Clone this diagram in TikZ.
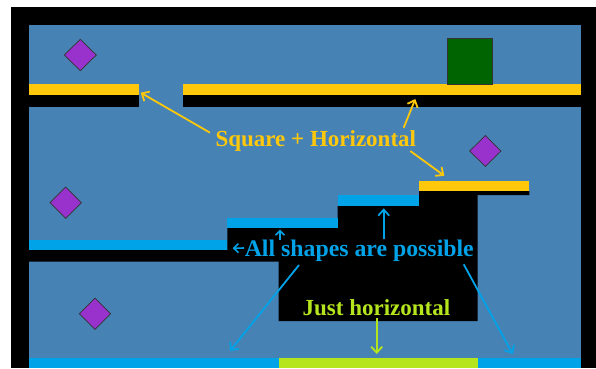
\documentclass[tikz,border=0pt]{standalone}
\usepackage{fontspec}
\setmainfont{Liberation Serif}
\usetikzlibrary{arrows.meta}
\definecolor{steel}{HTML}{4682B4}
\definecolor{gold}{HTML}{FFC80A}
\definecolor{sky}{HTML}{00A2E8}
\definecolor{lime}{HTML}{B5E61D}
\definecolor{orchid}{HTML}{9932CC}
\definecolor{dgreen}{HTML}{006400}
\tikzset{
  gem/.style={fill=orchid,draw=black!80,line width=0.7pt},
  lbl/.style={font=\fontsize{23}{26}\selectfont\bfseries,inner sep=0pt,anchor=base},
  arr/.style={line width=1.8pt,-{Straight Barb[length=6pt,width=11pt]}},
  sarr/.style={line width=1.6pt,-{Straight Barb[length=4.5pt,width=9pt]}},
}
\begin{document}
\begin{tikzpicture}[x=1pt,y=-1pt]
\useasboundingbox (0,0) rectangle (596,368);
\fill[white] (0,0) rectangle (596,368);
% frame
\fill[black] (11,7) rectangle (596,368);
\fill[steel] (28.7,25) rectangle (581,368);
% top floor
\fill[gold] (28.7,84.3) rectangle (139,95);
\fill[black] (28.7,95) rectangle (139,106.7);
\fill[gold] (183.3,84.3) rectangle (581,95);
\fill[black] (183.3,95) rectangle (581,106.7);
% green square
\node[draw=black!80,fill=dgreen,line width=0.7pt,minimum width=45.7pt,minimum height=46pt,inner sep=0pt] (sq) at (469.8,61.3) {};
% diamonds
\draw[gem] (80.3,39.3) -- (96.3,55) -- (80.3,70.7) -- (64.3,55) -- cycle;
\draw[gem] (485.3,135.5) -- (501,151) -- (485.3,166.5) -- (469.7,151) -- cycle;
\draw[gem] (65.7,187) -- (81.4,202.7) -- (65.7,218.4) -- (50,202.7) -- cycle;
\draw[gem] (95,298) -- (110.7,313.7) -- (95,329.4) -- (79.3,313.7) -- cycle;
% black stepped block
\fill[black] (227.3,227.7) -- (337.7,227.7) -- (337.7,205.7) -- (419,205.7) -- (419,191)
  -- (529.3,191) -- (529.3,195) -- (477.7,195) -- (477.7,321) -- (278.7,321)
  -- (278.7,261.7) -- (28.7,261.7) -- (28.7,250) -- (227.3,250) -- cycle;
% steps
\fill[gold] (419,181) rectangle (529.3,191);
\fill[sky] (337.7,195) rectangle (419,205.7);
\fill[sky] (227.3,217.7) rectangle (337.7,227.7);
\fill[sky] (28.7,240) rectangle (227.3,250);
% bottom floor
\fill[sky] (28.7,358.3) rectangle (278.7,368);
\fill[lime] (278.7,358.3) rectangle (477.7,368);
\fill[sky] (477.7,358.3) rectangle (581,368);
% labels
\node[lbl,text=gold] (sqh) at (315.8,146.7) {Square + Horizontal};
\node[lbl,text=sky,font=\fontsize{23.8}{26}\selectfont\bfseries] (all) at (359.3,256.7) {All shapes are possible};
\node[lbl,text=lime] (just) at (376.5,315) {Just horizontal};
% arrow end points
\coordinate (y1a) at (210,132.7); \coordinate (y1b) at (140.7,92.7);
\coordinate (y2a) at (403.7,127.7); \coordinate (y2b) at (415.3,99);
\coordinate (y3a) at (410.3,151); \coordinate (y3b) at (444.3,175.7);
\coordinate (b1a) at (244,248); \coordinate (b1b) at (232.7,248.3);
\coordinate (b2a) at (280,240); \coordinate (b2b) at (280,229.5);
\coordinate (b3a) at (383.7,239.3); \coordinate (b3b) at (383.7,208.3);
\coordinate (b4a) at (299,265); \coordinate (b4b) at (230,351);
\coordinate (b5a) at (463.7,264.3); \coordinate (b5b) at (512.7,354);
\coordinate (g1a) at (376.7,318.3); \coordinate (g1b) at (376.7,354);
\draw[arr,gold] (y1a) -- (y1b);
\draw[arr,gold] (y2a) -- (y2b);
\draw[arr,gold] (y3a) -- (y3b);
\draw[sarr,sky] (b1a) -- (b1b);
\draw[sarr,sky] (b2a) -- (b2b);
\draw[arr,sky] (b3a) -- (b3b);
\draw[arr,sky] (b4a) -- (b4b);
\draw[arr,sky] (b5a) -- (b5b);
\draw[arr,lime] (g1a) -- (g1b);
\end{tikzpicture}
\end{document}
